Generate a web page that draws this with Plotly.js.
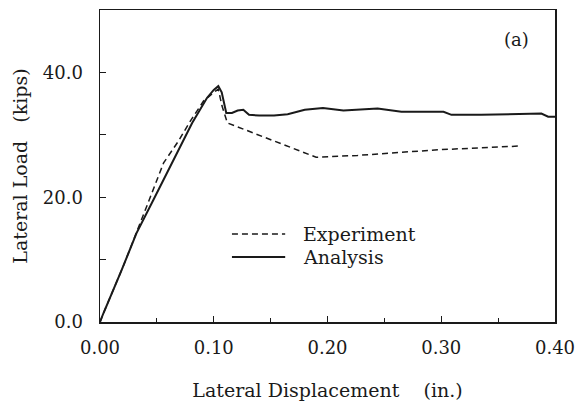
<!DOCTYPE html>
<html>
<head>
<meta charset="utf-8">
<script src="https://cdn.plot.ly/plotly-3.0.1.min.js"></script>
<style>
  html, body { margin: 0; padding: 0; background: #fff; }
  #chart { width: 575px; height: 403px; }
</style>
</head>
<body>
<div id="chart"></div>
<script>
// Lateral displacement (in.) and lateral load (kips)
const experimentX = [0, 0.003, 0.0206, 0.0294, 0.0412, 0.0559, 0.069, 0.0794, 0.091, 0.1015, 0.104, 0.1073, 0.110, 0.112, 0.190, 0.2265, 0.297, 0.369];
const experimentY = [0, 1.4, 9.0, 13.2, 18.6, 25.5, 29.0, 32.2, 35.4, 37.0, 37.3, 34.6, 33.0, 31.9, 26.4, 26.7, 27.6, 28.2];

const analysisX = [0, 0.003, 0.019, 0.032, 0.047, 0.063, 0.081, 0.094, 0.100, 0.104, 0.107, 0.111, 0.116, 0.121, 0.126, 0.131, 0.140, 0.153, 0.165, 0.180, 0.196, 0.214, 0.244, 0.265, 0.302, 0.309, 0.335, 0.388, 0.394, 0.400];
const analysisY = [0, 1.4, 8.3, 14.2, 19.6, 25.5, 31.9, 35.9, 37.2, 37.8, 36.8, 33.5, 33.5, 33.9, 34.0, 33.2, 33.1, 33.1, 33.3, 34.0, 34.3, 33.9, 34.2, 33.7, 33.7, 33.2, 33.2, 33.4, 32.9, 32.9];

const seriesNames = ["Experiment", "Analysis"];
const xTitle = "Lateral Displacement&nbsp;&nbsp;&nbsp;&nbsp;(in.)";
const yTitle = "Lateral Load&nbsp;&nbsp;&nbsp;(kips)";
const panelLabel = "(a)";

const FONT = "DejaVu Serif, Liberation Serif, serif";
const INK = "#1a1a1a";
const DASH = "6px,4px";

const traces = [
  {
    x: experimentX, y: experimentY, name: seriesNames[0],
    type: "scatter", mode: "lines", showlegend: false,
    line: { color: INK, width: 1.5, dash: DASH }
  },
  {
    x: analysisX, y: analysisY, name: seriesNames[1],
    type: "scatter", mode: "lines", showlegend: false,
    line: { color: INK, width: 2 }
  }
];

// hand-placed legend (sample lines + labels) in paper coordinates
const legendRows = [0.282, 0.208];
const legendShapes = [
  { type: "line", xref: "paper", yref: "paper", x0: 0.290, x1: 0.407, y0: legendRows[0], y1: legendRows[0],
    line: { color: INK, width: 1.5, dash: DASH } },
  { type: "line", xref: "paper", yref: "paper", x0: 0.290, x1: 0.407, y0: legendRows[1], y1: legendRows[1],
    line: { color: INK, width: 2 } }
];
const legendLabels = seriesNames.map((n, i) => ({
  text: n, xref: "paper", yref: "paper", x: 0.442, y: legendRows[i],
  xanchor: "left", yanchor: "middle", showarrow: false,
  font: { family: FONT, size: 19, color: INK }
}));

const layout = {
  width: 575, height: 403,
  margin: { l: 100, r: 20, t: 10, b: 81 },
  paper_bgcolor: "#fff", plot_bgcolor: "#fff",
  font: { family: FONT, size: 18, color: INK },
  showlegend: false,
  xaxis: {
    range: [0, 0.40], dtick: 0.1, tick0: 0, tickformat: ".2f",
    showgrid: false, zeroline: false,
    showline: true, linecolor: INK, linewidth: 1.5, mirror: true,
    ticks: "inside", ticklen: 6, tickcolor: INK, tickwidth: 1,
    minor: { dtick: 0.05, ticks: "inside", ticklen: 4, tickcolor: INK, tickwidth: 1 },
    tickfont: { family: FONT, size: 18, color: INK },
    ticklabelstandoff: 9,
    ticklabeloverflow: "allow",
    title: { text: xTitle, font: { family: FONT, size: 19, color: INK }, standoff: 26 }
  },
  yaxis: {
    range: [0, 50], dtick: 20, tick0: 0, tickformat: ".1f",
    showgrid: false, zeroline: false,
    showline: true, linecolor: INK, linewidth: 1.5, mirror: true,
    ticks: "inside", ticklen: 6, tickcolor: INK, tickwidth: 1,
    minor: { dtick: 10, ticks: "inside", ticklen: 6, tickcolor: INK, tickwidth: 1 },
    tickfont: { family: FONT, size: 18, color: INK },
    ticklabelstandoff: 12,
    title: { text: yTitle, font: { family: FONT, size: 19, color: INK }, standoff: 10 }
  },
  shapes: legendShapes,
  annotations: legendLabels.concat([
    {
      text: panelLabel, xref: "paper", yref: "paper",
      x: 0.916, y: 0.904, xanchor: "center", yanchor: "middle",
      showarrow: false, font: { family: FONT, size: 18, color: INK }
    }
  ])
};

Plotly.newPlot("chart", traces, layout, { displayModeBar: false, staticPlot: true });
</script>
</body>
</html>
